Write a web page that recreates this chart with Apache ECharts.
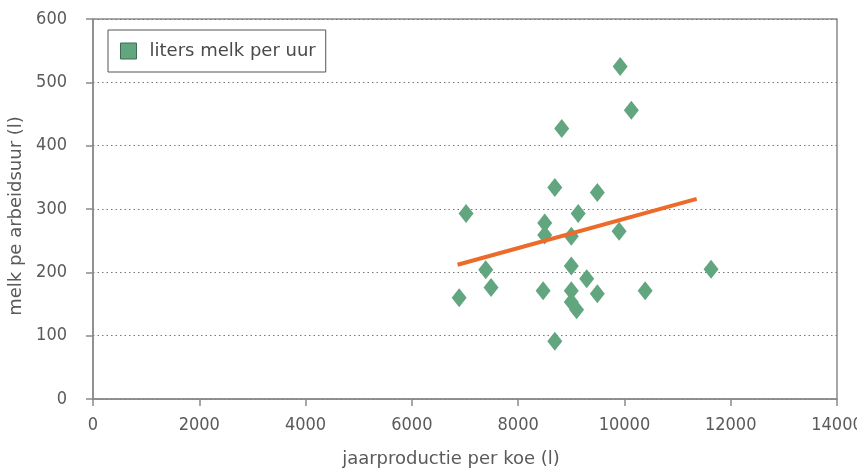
<!DOCTYPE html>
<html>
<head>
<meta charset="utf-8">
<script src="https://cdn.jsdelivr.net/npm/echarts@6/dist/echarts.min.js"></script>
<style>
html,body{margin:0;padding:0;background:#fff;}
#c{width:857px;height:471px;}
</style>
</head>
<body>
<div id="c"></div>
<script>
// Data
var seriesName = "liters melk per uur";
var prodPerCow = [6890, 7020, 7390, 7490, 8470, 8500, 8500, 8690, 8690, 8820, 9000, 9000, 9000, 9000, 9100, 9130, 9290, 9490, 9490, 9900, 9920, 10130, 10390, 11630];
var milkPerHour = [160, 293, 204, 176, 171, 278, 259, 91, 334, 427, 257, 210, 171, 153, 141, 293, 190, 166, 326, 265, 525, 456, 171, 205];
var trendX = [6860, 11360];
var trendY = [212, 316];
var xTitle = "jaarproductie per koe (l)";
var yTitle = "melk pe arbeidsuur (l)";

var points = prodPerCow.map(function (x, i) { return [x, milkPerHour[i]]; });
var trend = trendX.map(function (x, i) { return [x, trendY[i]]; });

var tickFont = "DejaVu Sans Condensed";
var textFont = "DejaVu Sans";
var textColor = "#5a5a5a";
var chart = echarts.init(document.getElementById('c'), null, {renderer: 'canvas'});
chart.setOption({
  animation: false,
  backgroundColor: '#ffffff',
  grid: {left: 93, right: 20, top: 19, bottom: 72, show: true, borderColor: '#8a8a8a', borderWidth: 1.5, containLabel: false, outerBoundsMode: 'none'},
  legend: {
    data: [{name: seriesName, icon: 'rect'}],
    left: 108, top: 30,
    orient: 'vertical',
    borderColor: '#555', borderWidth: 1,
    padding: [12, 10, 12, 12],
    itemWidth: 16, itemHeight: 16,
    itemStyle: {borderColor: '#3f6b55', borderWidth: 1},
    textStyle: {fontFamily: textFont, fontSize: 18, color: '#4a4a4a', padding: [0, 0, 0, 8]}
  },
  xAxis: {
    type: 'value', min: 0, max: 14000, interval: 2000,
    name: xTitle, nameLocation: 'middle', nameGap: 51,
    nameTextStyle: {fontFamily: textFont, fontSize: 18, color: textColor, padding: [0, 28, 0, 0]},
    axisLine: {lineStyle: {color: '#8a8a8a', width: 1.5}},
    axisTick: {show: true, length: 7, lineStyle: {color: '#8a8a8a', width: 1.5}},
    axisLabel: {fontFamily: tickFont, fontSize: 18, color: textColor, margin: 17, formatter: function (v) { return String(v); }},
    splitLine: {show: false}
  },
  yAxis: {
    type: 'value', min: 0, max: 600, interval: 100,
    name: yTitle, nameLocation: 'middle', nameGap: 66, nameRotate: 90,
    nameTextStyle: {fontFamily: textFont, fontSize: 18, color: textColor, padding: [0, 14, 0, 0]},
    axisLine: {show: true, lineStyle: {color: '#8a8a8a', width: 1.5}},
    axisTick: {show: true, length: 7, lineStyle: {color: '#8a8a8a', width: 1.5}},
    axisLabel: {fontFamily: tickFont, fontSize: 18, color: textColor, margin: 26},
    splitLine: {show: true, lineStyle: {color: '#777', type: [1.5, 3], width: 1.2}}
  },
  series: [
    {
      name: seriesName, type: 'scatter', symbol: 'diamond', symbolSize: [15, 19],
      itemStyle: {color: '#62a67f', opacity: 1},
      data: points, z: 3
    },
    {
      name: 'trend', type: 'line', data: trend, symbol: 'none',
      lineStyle: {color: '#ec6a2a', width: 4}, z: 4, silent: true
    }
  ]
});
</script>
</body>
</html>
